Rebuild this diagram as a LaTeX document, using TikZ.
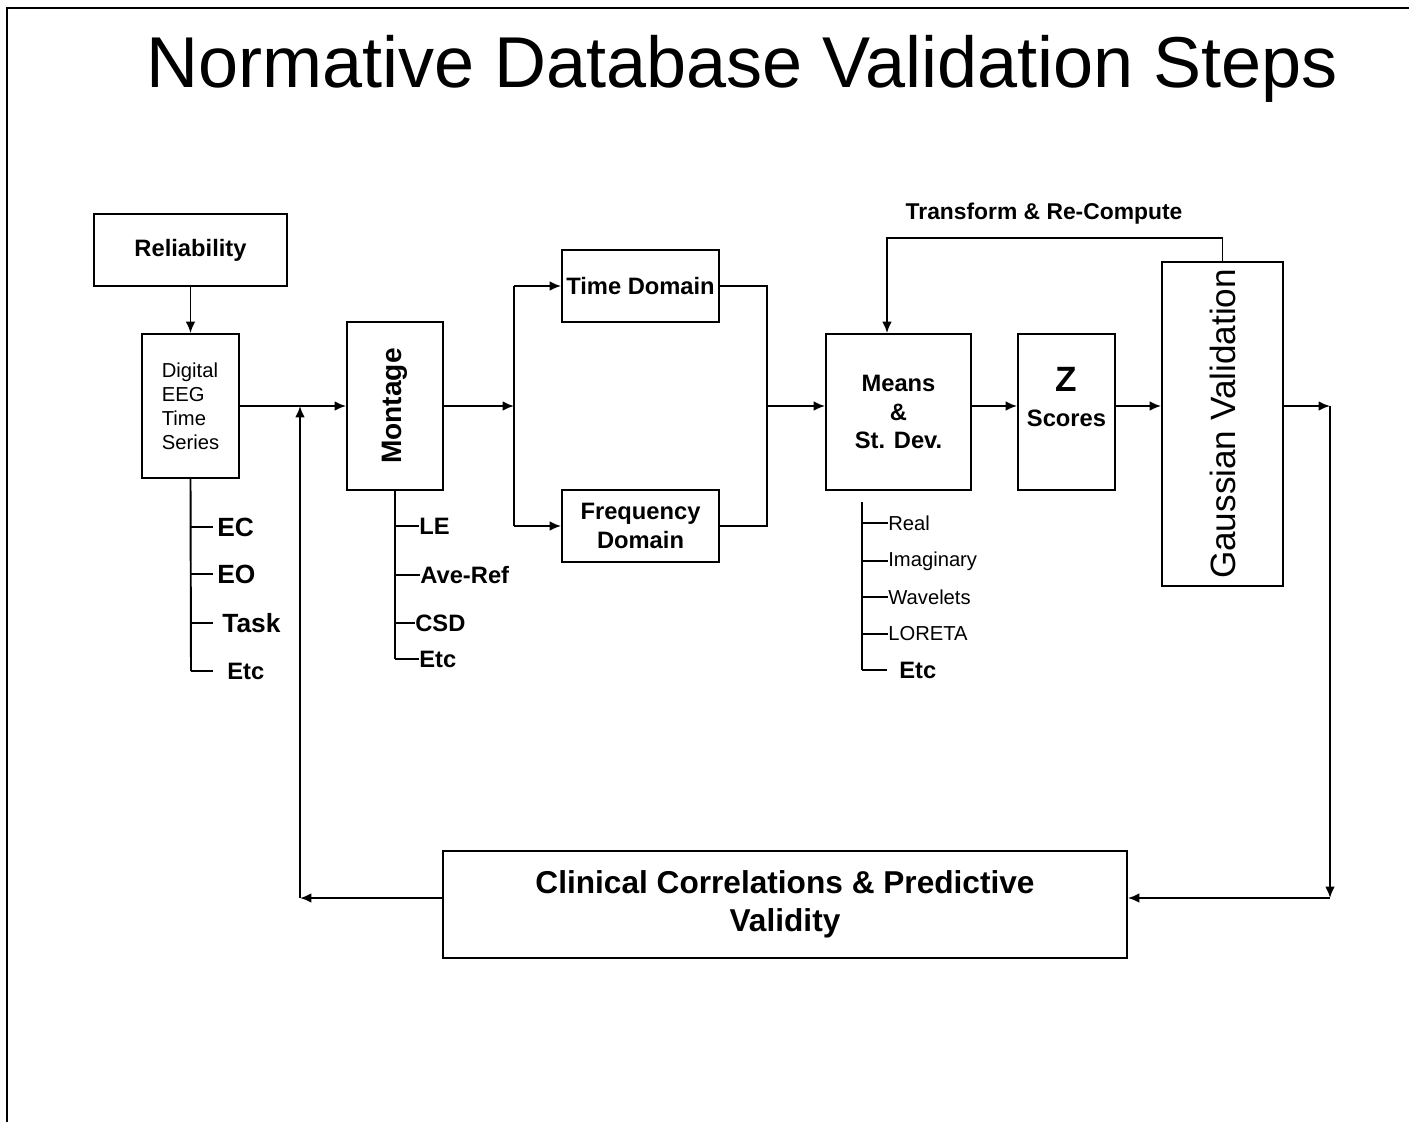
\documentclass[tikz,border=0pt]{standalone}
\usepackage{graphicx}
\usepackage{fontspec}
\setmainfont{Liberation Sans}
\usetikzlibrary{arrows.meta}

\begin{document}
\begin{tikzpicture}[
      x=0.02cm, y=-0.02cm,
      box/.style = {draw, line width=1.1pt, inner sep=1pt, align=center},
      wire/.style = {line width=1.1pt},
      lbl/.style = {font=\fontsize{13.5}{16}\selectfont\bfseries},
      small/.style = {font=\fontsize{11.5}{13.6}\selectfont},
      leaf/.style = {anchor=west, inner sep=0pt},
      >={Latex[length=6.5pt,width=5.5pt]}
    ]
    \useasboundingbox (0,0) rectangle (1409,1122);
    \draw[line width=1.2pt] (7,1122) -- (7,8) -- (1409,8);

    \node[anchor=base, font=\fontsize{41}{48}\selectfont] (title) at (742,88)
      {Normative Database Validation Steps};

    % boxes
    \node[box, lbl, minimum width=3.86cm, minimum height=1.44cm] (rel) at (190.5,250) {Reliability};
    \node[box, small, align=left, minimum width=1.94cm, minimum height=2.88cm] (eeg) at (190.5,406)
      {Digital\\EEG\\Time\\Series};
    \node[box, font=\fontsize{16}{18}\selectfont\bfseries, minimum width=1.92cm, minimum height=3.36cm] (mont)
      at (395,406) {\rotatebox{90}{Montage}};
    \node[box, lbl, minimum width=3.14cm, minimum height=1.44cm] (timed) at (640.5,286) {Time Domain};
    \node[box, lbl, minimum width=3.14cm, minimum height=1.44cm] (freqd) at (640.5,526) {Frequency\\Domain};
    \node[box, lbl, minimum width=2.9cm, minimum height=3.12cm] (means) at (898.5,412) {Means\\\&\\St. Dev.};
    \node[box, lbl, minimum width=1.94cm, minimum height=3.12cm] (zsc) at (1066.5,412)
      {\raisebox{8.5pt}[\height][\depth]{\shortstack{{\fontsize{20}{24}\selectfont Z}\\[7pt]Scores}}};
    \node[box, font=\fontsize{20}{23}\selectfont, minimum width=2.42cm, minimum height=6.48cm] (gauss)
      at (1222.5,424) {\rotatebox{90}{Gaussian Validation}};
    \node[box, font=\fontsize{18}{21.5}\selectfont\bfseries, minimum width=13.68cm, minimum height=2.14cm] (clin)
      at (785,904.5) {Clinical Correlations \& Predictive\\Validity};

    % main row
    \coordinate (row) at (0,406);
    \coordinate (split) at (514,406);
    \coordinate (merge) at (767,406);
    \draw[wire,->] (rel) -- (eeg);
    \draw[wire,->] (eeg.east) -- (mont.west);
    \draw[wire,->] (mont.east) -- (split);
    \draw[wire] (split |- timed.west) -- (split |- freqd.west);
    \draw[wire,->] (split |- timed.west) -- (timed.west);
    \draw[wire,->] (split |- freqd.west) -- (freqd.west);
    \draw[wire] (timed.east) -| (merge) |- (freqd.east);
    \draw[wire,->] (merge) -- (means.west |- row);
    \draw[wire,->] (means.east |- row) -- (zsc.west |- row);
    \draw[wire,->] (zsc.east |- row) -- (gauss.west |- row);

    % loops
    \coordinate (outr) at (1330,406);
    \coordinate (outb) at (1330,898);
    \coordinate (backb) at (300,898);
    \coordinate (backt) at (300,406);
    \coordinate (fb) at (887,238);
    \draw[wire,->] (gauss.east |- row) -- (outr);
    \draw[wire,->] (outr) -- (outb);
    \draw[wire,->] (outb) -- (clin.east |- outb);
    \draw[wire,->] (clin.west |- backb) -- (backb);
    \draw[wire,->] (backb) -- (backt);
    \draw[wire,->] (gauss.north) |- (fb) -- (fb |- means.north);
    \node[lbl, font=\fontsize{13}{16}\selectfont\bfseries] (fblbl) at (1044,214) {Transform \& Re-Compute};

    % condition tree
    \draw[wire] (eeg.south) -- (191,671);
    \foreach \yy/\txt/\lx/\fs [count=\i] in {527/EC/217/15, 574/EO/217/15, 623/Task/222/15, 671/Etc/227/13.5}{
      \node[leaf, font=\fontsize{\fs}{18}\selectfont\bfseries] (cond\i) at (\lx,\yy) {\txt};
      \draw[wire] (191,\yy) -- ++(22,0);
    }

    % montage tree
    \draw[wire] (mont.south) -- (395,659);
    \foreach \yy/\txt/\lx [count=\i] in {526/LE/419, 575/Ave-Ref/420, 623/CSD/415, 659/Etc/419}{
      \node[leaf, lbl] (ref\i) at (\lx,\yy) {\txt};
      \draw[wire] (395,\yy) -- (ref\i.west);
    }

    % measures tree
    \draw[wire] (862,502) -- (862,670);
    \foreach \yy/\txt [count=\i] in {523/Real, 561/Imaginary, 597/Wavelets, 634/LORETA}{
      \node[leaf, small] (meas\i) at (888,\yy) {\txt};
      \draw[wire] (862,\yy) -- (meas\i.west);
    }
    \node[leaf, lbl] (meas5) at (899,670) {Etc};
    \draw[wire] (862,670) -- ++(25,0);
  \end{tikzpicture}
\end{document}
